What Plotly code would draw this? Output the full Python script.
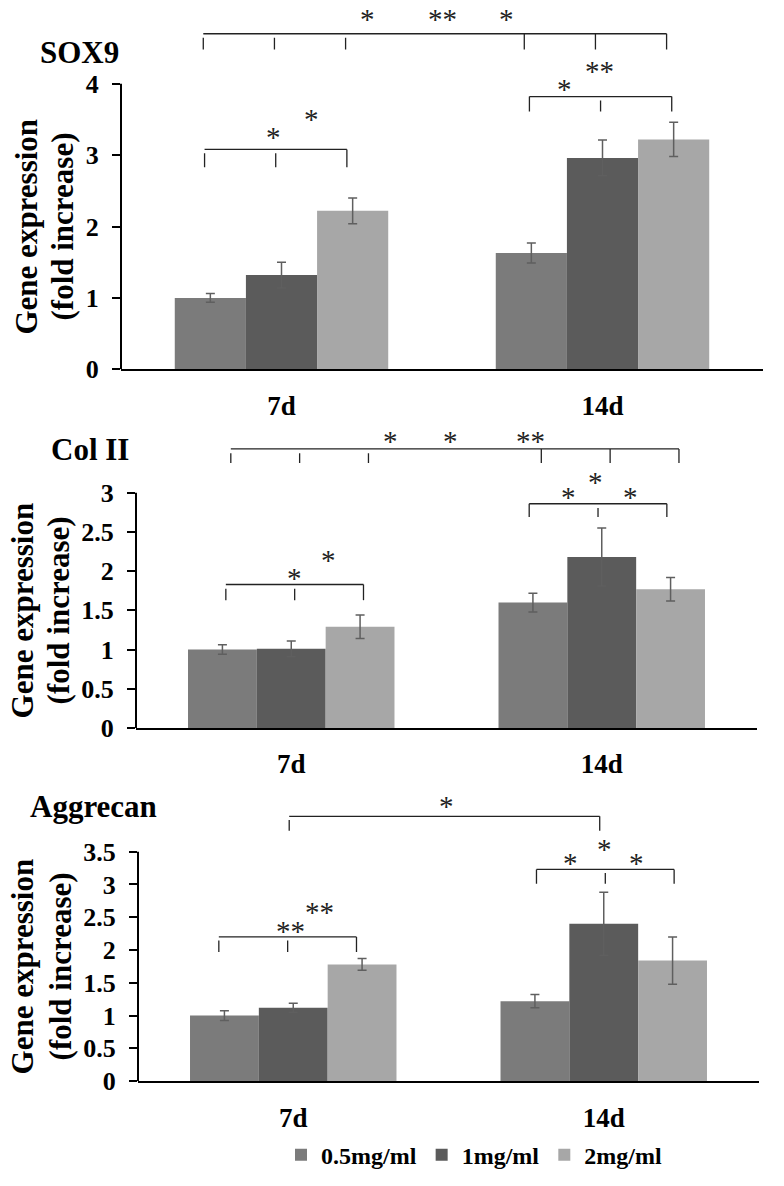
import plotly.graph_objects as go

W, H = 784, 1186
FONT = "Liberation Serif"

days = ["7d", "14d"]
doses = ["0.5mg/ml", "1mg/ml", "2mg/ml"]
colors = ["#7b7b7b", "#5b5b5b", "#a7a7a7"]

# mean fold increase per dose, [7d, 14d]
sox9_mean = [[1.00, 1.63], [1.32, 2.96], [2.22, 3.22]]
sox9_err = [[0.06, 0.14], [0.18, 0.25], [0.18, 0.24]]
col2_mean = [[1.00, 1.60], [1.01, 2.18], [1.29, 1.77]]
col2_err = [[0.06, 0.12], [0.10, 0.37], [0.15, 0.15]]
agg_mean = [[1.00, 1.22], [1.12, 2.40], [1.78, 1.84]]
agg_err = [[0.075, 0.10], [0.07, 0.48], [0.09, 0.36]]

# significance brackets: (day, dose) of every foot, line level, foot end,
# which feet are detached from the line, small hand-drawn shift
sox9_brackets = [
    dict(feet=[(0, 0), (0, 1), (0, 2)], y=3.08, y_end=2.83, loose=[1, 1, 0], dx=-0.018),
    dict(feet=[(0, 0), (0, 1), (0, 2), (1, 0), (1, 1), (1, 2)], y=4.70, y_end=4.48,
         loose=[1, 1, 1, 0, 0, 0], dx=-0.022),
    dict(feet=[(1, 0), (1, 1), (1, 2)], y=3.82, y_end=3.61, loose=[0, 1, 0], dx=-0.006),
]
col2_brackets = [
    dict(feet=[(0, 0), (0, 1), (0, 2)], y=1.83, y_end=1.63, loose=[1, 1, 0], dx=0.011),
    dict(feet=[(0, 0), (0, 1), (0, 2), (1, 0), (1, 1), (1, 2)], y=3.56, y_end=3.38,
         loose=[1, 1, 1, 0, 0, 0], dx=0.027),
    dict(feet=[(1, 0), (1, 1), (1, 2)], y=2.86, y_end=2.69, loose=[0, 1, 0], dx=-0.012),
]
agg_brackets = [
    dict(feet=[(0, 0), (0, 1), (0, 2)], y=2.20, y_end=1.97, loose=[1, 1, 0], dx=-0.018),
    dict(feet=[(0, 1), (1, 1)], y=4.04, y_end=3.82, loose=[1, 0], dx=-0.013),
    dict(feet=[(1, 0), (1, 1), (1, 2)], y=3.23, y_end=3.01, loose=[0, 1, 0], dx=0.005),
]

# stars: (text, x on the day axis, y)
sox9_stars = [("*", 0.269, 4.97), ("**", 0.50, 4.97), ("*", 0.702, 4.97),
              ("*", -0.026, 3.32), ("*", 0.092, 3.57),
              ("*", 0.883, 4.00), ("**", 0.992, 4.25)]
col2_stars = [("*", 0.32, 3.72), ("*", 0.512, 3.72), ("**", 0.772, 3.72),
              ("*", 0.01, 1.98), ("*", 0.119, 2.21),
              ("*", 0.892, 3.01), ("*", 0.979, 3.20), ("*", 1.094, 3.01)]
agg_stars = [("*", 0.494, 4.28),
             ("**", -0.01, 2.36), ("**", 0.084, 2.65),
             ("*", 0.894, 3.40), ("*", 1.004, 3.61), ("*", 1.106, 3.40)]

panels = [
    dict(name="SOX9", mean=sox9_mean, err=sox9_err, brackets=sox9_brackets, stars=sox9_stars,
         ymax=4, dtick=1, left=121, right=763, y0=374, unit=72.3, top=3,
         title_xy=(38, 53), ytitle_x=(27, 63)),
    dict(name="Col II", mean=col2_mean, err=col2_err, brackets=col2_brackets, stars=col2_stars,
         ymax=3, dtick=0.5, left=136, right=757, y0=737.3, unit=79.4, top=425,
         title_xy=(49, 455), ytitle_x=(22, 58)),
    dict(name="Aggrecan", mean=agg_mean, err=agg_err, brackets=agg_brackets, stars=agg_stars,
         ymax=3.5, dtick=0.5, left=138, right=759, y0=1095, unit=66.4, top=795,
         title_xy=(28, 817), ytitle_x=(22, 60)),
]

BARGAP = 0.335
bw = (1 - BARGAP) / 3


def bar_x(day, dose):
    return day + (dose - 1) * bw


fig = go.Figure()
shapes, annotations = [], []

for i, p in enumerate(panels):
    n = "" if i == 0 else str(i + 1)
    xa, ya = "x" + n, "y" + n
    for d, dose in enumerate(doses):
        fig.add_trace(go.Bar(
            x=[0, 1], y=p["mean"][d], name=dose, marker_color=colors[d],
            marker_line_width=0, legendgroup=dose, showlegend=(i == 0),
            error_y=dict(type="data", array=p["err"][d], color="#5f5f5f",
                         thickness=1.5, width=4.5),
            xaxis=xa, yaxis=ya,
        ))

    ytop = (p["y0"] - p["top"]) / p["unit"]
    ticks = [k * p["dtick"] for k in range(int(round(p["ymax"] / p["dtick"])) + 1)]
    fig.layout["xaxis" + n] = dict(
        domain=[p["left"] / W, p["right"] / W], range=[-0.5, 1.5], anchor=ya,
        tickvals=[0, 1], ticktext=days, ticks="", showgrid=False, zeroline=False,
        showline=True, linecolor="black", linewidth=2, ticklabelstandoff=11,
        tickfont=dict(family=FONT, size=27, color="black", weight="bold"),
        fixedrange=True,
    )
    fig.layout["yaxis" + n] = dict(
        domain=[1 - p["y0"] / H, 1 - p["top"] / H], range=[0, ytop], anchor=xa,
        tickvals=ticks, ticks="outside", ticklen=8, tickwidth=1.5, tickcolor="black",
        showgrid=False, zeroline=False, showline=False, ticklabelstandoff=8,
        tickfont=dict(family=FONT, size=26, color="black", weight="bold"),
        fixedrange=True,
    )

    # y axis line only up to the last tick
    shapes.append(dict(type="line", xref=xa + " domain", yref=ya, x0=0, x1=0,
                       y0=0, y1=p["ymax"], line=dict(color="black", width=2)))

    gap = 0.055
    for b in p["brackets"]:
        xs = [bar_x(dd, ss) + b["dx"] for dd, ss in b["feet"]]
        shapes.append(dict(type="line", xref=xa, yref=ya, x0=min(xs), x1=max(xs),
                           y0=b["y"], y1=b["y"], line=dict(color="#222222", width=1.3)))
        for xv, loose in zip(xs, b["loose"]):
            shapes.append(dict(type="line", xref=xa, yref=ya, x0=xv, x1=xv,
                               y0=b["y"] - (gap if loose else 0), y1=b["y_end"],
                               line=dict(color="#222222", width=1.3)))

    for txt, sx, sy in p["stars"]:
        annotations.append(dict(text=txt, x=sx, y=sy, xref=xa, yref=ya, showarrow=False,
                                yshift=-5, font=dict(family=FONT, size=29, color="#222222")))

    tx, ty = p["title_xy"]
    annotations.append(dict(text="<b>%s</b>" % p["name"], x=tx / W, y=1 - ty / H,
                            xref="paper", yref="paper", xanchor="left", yanchor="middle",
                            showarrow=False, font=dict(family=FONT, size=31, color="black")))
    for line, lx in zip(["Gene expression", "(fold increase)"], p["ytitle_x"]):
        annotations.append(dict(text="<b>%s</b>" % line, x=lx / W, xref="paper",
                                xanchor="center", y=p["ymax"] / 2, yref=ya, yanchor="middle",
                                textangle=-90, showarrow=False,
                                font=dict(family=FONT, size=31, color="black")))

fig.update_layout(
    width=W, height=H, barmode="group", bargap=BARGAP, bargroupgap=0,
    margin=dict(l=0, r=0, t=0, b=0),
    paper_bgcolor="white", plot_bgcolor="white",
    shapes=shapes, annotations=annotations,
    legend=dict(orientation="h", x=474 / W, xanchor="center", y=1 - 1170 / H,
                yanchor="middle", font=dict(family=FONT, size=24, color="black", weight="bold"),
                bgcolor="rgba(0,0,0,0)"),
)

# drop the page's default body margin so the figure sits at the window origin
fig.write_html("out.html", config={"displayModeBar": False},
               post_script="document.body.style.margin = '0';")
